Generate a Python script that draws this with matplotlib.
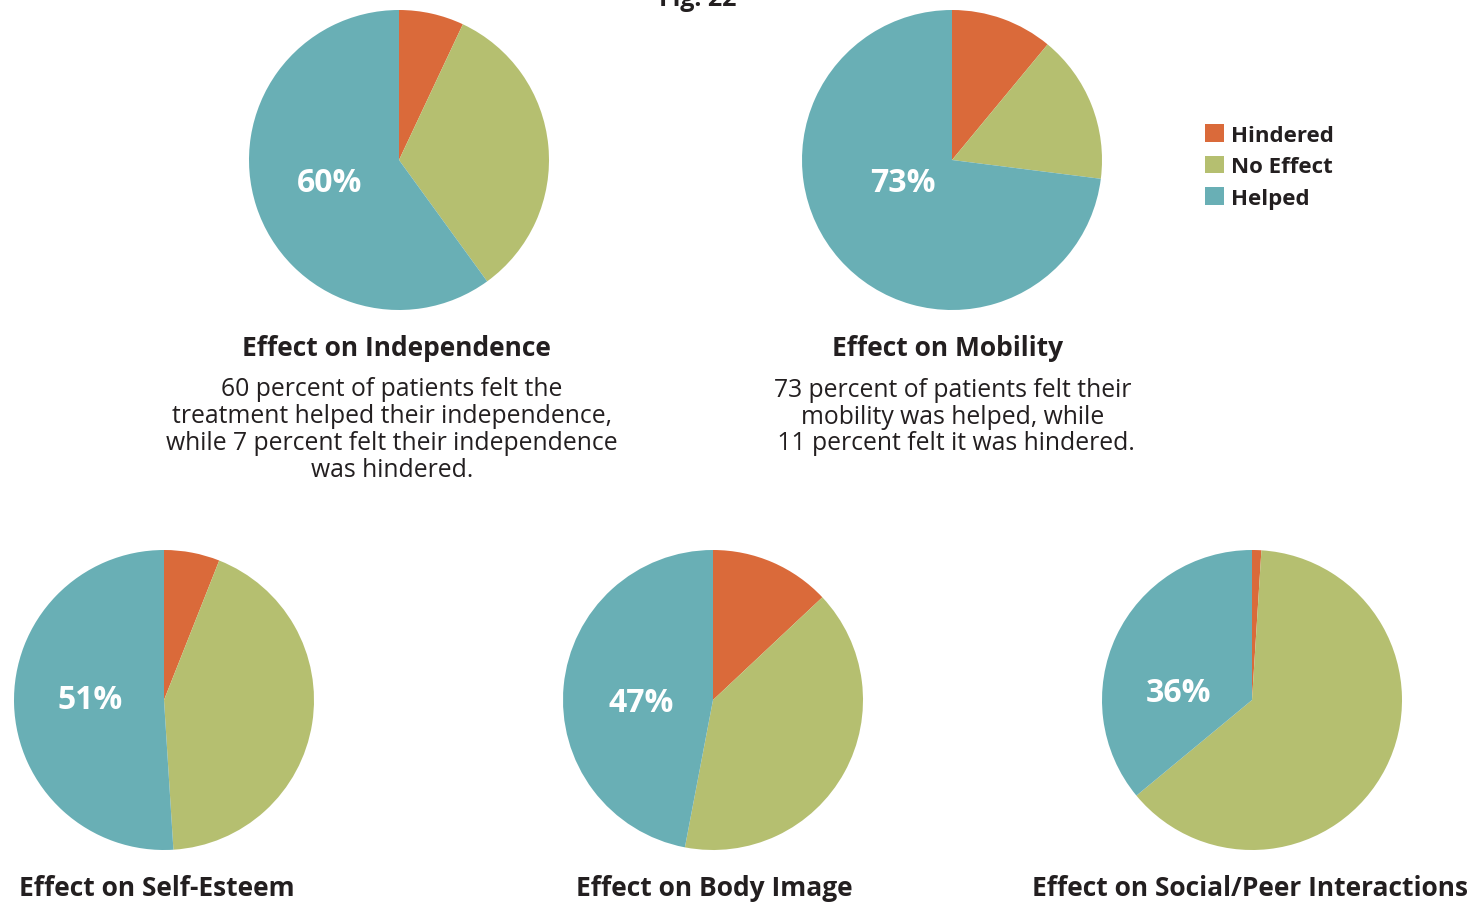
import matplotlib.pyplot as plt
from matplotlib.patches import Patch

plt.rcParams['font.family'] = ['Open Sans', 'DejaVu Sans']

# shares: hindered, no effect, helped (percent)
categories = ['Hindered', 'No Effect', 'Helped']
colors = ['#DA6A3A', '#B5BF70', '#69AFB5']

titles = ['Effect on Independence', 'Effect on Mobility', 'Effect on Self-Esteem',
          'Effect on Body Image', 'Effect on Social/Peer Interactions']
hindered = [7, 11, 6, 13, 1]
no_effect = [33, 16, 43, 40, 63]
helped = [60, 73, 51, 47, 36]

notes = [
    '60 percent of patients felt the\ntreatment helped their independence,\n'
    'while 7 percent felt their independence\nwas hindered.',
    '73 percent of patients felt their\nmobility was helped, while\n 11 percent felt it was hindered.',
    None, None, None,
]

W, H = 1470, 903
fig = plt.figure(figsize=(W / 100, H / 100), dpi=100)

# pie centres in pixels (x, y from top), radius 150 px
centres = [(399, 161), (952, 161), (164, 701), (713, 701), (1252, 701)]
R = 150
# where the helped percentage sits, relative to centre (in radius units)
label_off = [(-0.46, -0.15), (-0.33, -0.15), (-0.49, 0.0), (-0.48, -0.02), (-0.49, 0.05)]
title_pos = [(396, 348), (948, 349), (157, 889), (714, 889), (1250, 889)]
note_pos = [(392, 430), (953, 417)]

for i, (cx, cy) in enumerate(centres):
    ax = fig.add_axes([(cx - R) / W, 1 - (cy + R) / H, 2 * R / W, 2 * R / H])
    vals = [hindered[i], no_effect[i], helped[i]]
    ax.pie(vals, colors=colors, startangle=90, counterclock=False, radius=1,
           wedgeprops=dict(linewidth=0))
    ax.set_xlim(-1, 1)
    ax.set_ylim(-1, 1)
    ax.set_aspect('equal')
    ax.axis('off')
    dx, dy = label_off[i]
    ax.text(dx, dy, f'{helped[i]}%', color='white', fontsize=23, fontweight='bold',
            ha='center', va='center')
    tx, ty = title_pos[i]
    fig.text(tx / W, 1 - ty / H, titles[i], fontsize=19, fontweight='bold',
             color='#231f20', ha='center', va='center')

for i, (nx, ny) in enumerate(note_pos):
    fig.text(nx / W, 1 - ny / H, notes[i], fontsize=17.8, color='#231f20',
             ha='center', va='center', linespacing=1.1)

fig.text(698 / W, 1 - 6 / H, 'Fig. 22', fontsize=18, fontweight='bold',
         color='#231f20', ha='center', va='baseline')

handles = [Patch(facecolor=c, edgecolor='none') for c in colors]
fig.legend(handles, categories, loc='upper left', bbox_to_anchor=(1205 / W, 1 - 125 / H),
           frameon=False, prop={'weight': 'bold', 'size': 16},
           handlelength=0.85, handleheight=0.85, handletextpad=0.3, labelspacing=0.45,
           borderpad=0, borderaxespad=0, labelcolor='#231f20')

fig.savefig('out.png', dpi=100)
